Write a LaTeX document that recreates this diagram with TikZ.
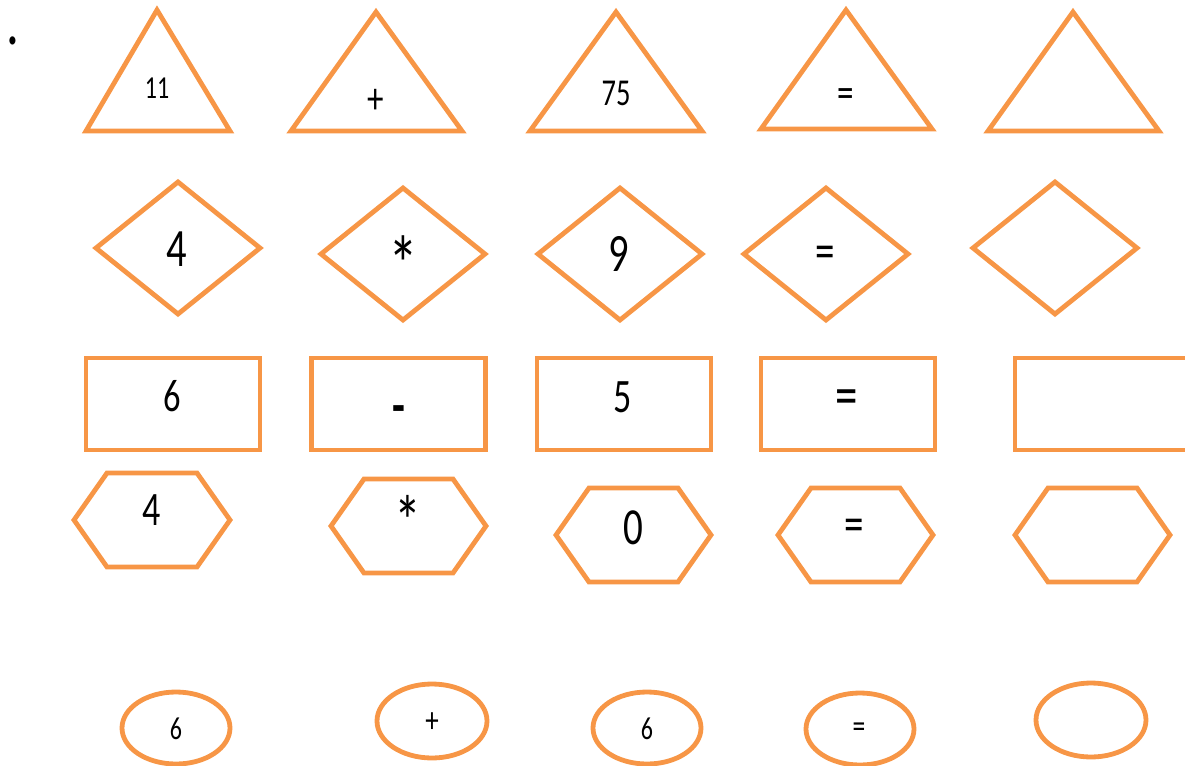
\documentclass[tikz,border=0pt]{standalone}
\usepackage{fontspec}
\setmainfont[FakeStretch=0.75]{Carlito}
\usetikzlibrary{shapes.geometric}
\definecolor{shapeorange}{HTML}{F79646}
\tikzset{
  outline/.style={draw=shapeorange, line width=2.4pt},
  rectbox/.style={outline, rectangle, minimum width=87pt, minimum height=46pt, inner sep=0pt},
  diam/.style={outline, diamond, minimum width=83pt, minimum height=67pt, inner sep=0pt},
  oval/.style={outline, ellipse, minimum width=54pt, minimum height=36pt, inner sep=0pt},
  lbl/.style={inner sep=0pt, text=black}
}
\newcommand{\fs}[1]{\fontsize{#1}{#1}\selectfont}

\begin{document}
\begin{tikzpicture}[x=0.5pt, y=-0.5pt]
\useasboundingbox (0,0) rectangle (1185,766);
\node[lbl, font=\fs{34}] (dot) at (13,44) {\smash{.}};

% triangles
\draw[outline] (157,10) -- (230,131) -- (86,131) -- cycle;
\draw[outline] (376,12) -- (462,131) -- (291,131) -- cycle;
\draw[outline] (616,12) -- (702,131) -- (530,131) -- cycle;
\draw[outline] (846,10) -- (932,129) -- (761,129) -- cycle;
\draw[outline] (1073,12) -- (1159,131) -- (988,131) -- cycle;
\node[lbl, font=\fs{16}] (t1) at (157,88) {11};
\node[lbl, font=\fs{22}] (t2) at (376,101) {+};
\node[lbl, font=\fs{19}] (t3) at (616,93) {75};
\node[lbl, font=\fs{22}] (t4) at (846,98) {=};

% diamonds
\node[diam] (d1) at (178,248) {};
\node[diam] (d2) at (403,254) {};
\node[diam] (d3) at (620,254) {};
\node[diam] (d4) at (826,254) {};
\node[diam] (d5) at (1055,248) {};
\node[lbl, font=\fs{27}] (d1t) at (177,249) {4};
\node[lbl, font=\fs{40}] (d2t) at (403,264) {*};
\node[lbl, font=\fs{27}] (d3t) at (619,254) {9};
\node[lbl, font=\fs{26}] (d4t) at (825,257) {=};

% rectangles
\node[rectbox] (r1) at (173,404) {};
\node[rectbox] (r2) at (398.5,404) {};
\node[rectbox] (r3) at (624,404) {};
\node[rectbox] (r4) at (848,404) {};
\node[rectbox] (r5) at (1102,404) {};
\node[lbl, font=\fs{23}] (r1t) at (172,396) {6};
\node[lbl, font=\bfseries\fs{28}] (r2t) at (399,415) {-};
\node[lbl, font=\fs{24}] (r3t) at (623,397) {5};
\node[lbl, font=\fs{30}] (r4t) at (847,403) {=};

% hexagons
\draw[outline] (74,520) -- (107,473) -- (197,473) -- (230,520) -- (197,567) -- (107,567) -- cycle;
\draw[outline] (331,526) -- (364,479) -- (453,479) -- (486,526) -- (453,573) -- (364,573) -- cycle;
\draw[outline] (556,535) -- (589,488) -- (678,488) -- (711,535) -- (678,582) -- (589,582) -- cycle;
\draw[outline] (778,535) -- (811,488) -- (900,488) -- (933,535) -- (900,582) -- (811,582) -- cycle;
\draw[outline] (1015,535) -- (1048,488) -- (1137,488) -- (1170,535) -- (1137,582) -- (1048,582) -- cycle;
\node[lbl, font=\fs{24}] (h1t) at (152,510) {4};
\node[lbl, font=\fs{36}] (h2t) at (408,521) {*};
\node[lbl, font=\fs{26}] (h3t) at (633,528) {0};
\node[lbl, font=\fs{26}] (h4t) at (854,530) {=};

% ellipses
\node[oval] (e1) at (176,728) {};
\node[oval, minimum width=55pt, minimum height=37pt] (e2) at (432,721) {};
\node[oval] (e3) at (647,728) {};
\node[oval] (e4) at (860,729) {};
\node[oval, minimum width=55pt, minimum height=37pt] (e5) at (1091,720) {};
\node[lbl, font=\fs{16}] (e1t) at (176,729) {6};
\node[lbl, font=\fs{18}] (e2t) at (432,723) {+};
\node[lbl, font=\fs{16}] (e3t) at (647,729) {6};
\node[lbl, font=\fs{17}] (e4t) at (859,730) {=};
\end{tikzpicture}
\end{document}
